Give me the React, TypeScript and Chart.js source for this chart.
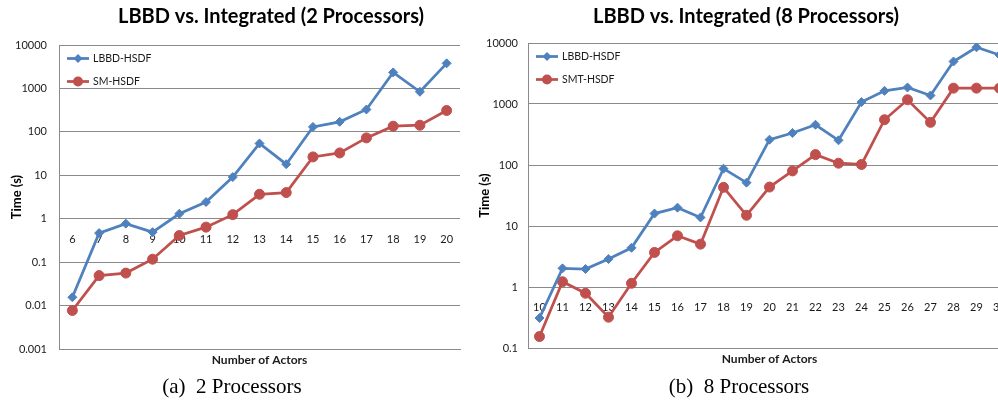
import React, { useEffect, useRef } from 'react';
import { Chart, registerables } from 'chart.js';

Chart.register(...registerables);

// ---------- data ----------
const actors2 = [6, 7, 8, 9, 10, 11, 12, 13, 14, 15, 16, 17, 18, 19, 20];
const lbbd2 = [0.0155, 0.466, 0.77, 0.49, 1.3, 2.42, 9.1, 54, 18, 130, 170, 327, 2340, 837, 3780];
const sm2 = [0.0077, 0.049, 0.056, 0.117, 0.41, 0.64, 1.24, 3.65, 4.0, 26.5, 32.7, 72.6, 135, 142, 310];
const yTicks2 = [0.001, 0.01, 0.1, 1, 10, 100, 1000, 10000];

const actors8 = [10, 11, 12, 13, 14, 15, 16, 17, 18, 19, 20, 21, 22, 23, 24, 25, 26, 27, 28, 29, 30];
const lbbd8 = [0.31, 2.02, 1.97, 2.87, 4.39, 16, 20, 13.8, 87, 51.4, 260, 335, 457, 254, 1075, 1643, 1866, 1380, 4970, 8510, 6370];
const smt8 = [0.154, 1.22, 0.79, 0.32, 1.15, 3.69, 6.9, 5.04, 43, 15, 43.5, 80, 148, 107, 102, 552, 1172, 500, 1820, 1820, 1820];
const yTicks8 = [0.1, 1, 10, 100, 1000, 10000];

const title2 = 'LBBD vs. Integrated (2 Processors)';
const title8 = 'LBBD vs. Integrated (8 Processors)';
const xTitle = 'Number of Actors';
const yTitle = 'Time (s)';

// ---------- styles ----------
const BLUE = '#4F81BD';
const RED = '#C0504D';
const GRID = '#8A8A8A';
const TEXT = '#1a1a1a';
const SANS = 'Lato, "Open Sans", "DejaVu Sans", sans-serif';

Chart.defaults.font.family = SANS;

const headingPlugin = {
  id: 'heading',
  afterDraw(chart: any, _args: any, opts: any) {
    const ctx = chart.ctx;
    ctx.save();
    ctx.font = `bold ${opts.size}px ${SANS}`;
    ctx.fillStyle = '#000';
    ctx.textAlign = 'center';
    ctx.textBaseline = 'middle';
    ctx.fillText(opts.text, opts.x, opts.y);
    ctx.restore();
  },
};

const innerLegend = {
  id: 'innerLegend',
  afterDatasetsDraw(chart: any, _args: any, opts: any) {
    const { ctx, chartArea } = chart;
    chart.data.datasets.forEach((ds: any, i: number) => {
      const y = chartArea.top + opts.top + i * opts.gap;
      const x0 = chartArea.left + opts.left;
      const x1 = x0 + opts.lineLength;
      const xm = (x0 + x1) / 2;
      ctx.save();
      ctx.strokeStyle = ds.borderColor;
      ctx.lineWidth = ds.borderWidth;
      ctx.beginPath();
      ctx.moveTo(x0, y);
      ctx.lineTo(x1, y);
      ctx.stroke();
      ctx.fillStyle = ds.pointBackgroundColor;
      const r = ds.pointRadius;
      ctx.beginPath();
      if (ds.pointStyle === 'rectRot') {
        ctx.moveTo(xm, y - r);
        ctx.lineTo(xm + r, y);
        ctx.lineTo(xm, y + r);
        ctx.lineTo(xm - r, y);
        ctx.closePath();
      } else {
        ctx.arc(xm, y, r, 0, Math.PI * 2);
      }
      ctx.fill();
      ctx.font = `${opts.fontSize}px ${SANS}`;
      ctx.fillStyle = TEXT;
      ctx.textAlign = 'left';
      ctx.textBaseline = 'middle';
      ctx.fillText(ds.label, x1 + 4, y);
      ctx.restore();
    });
  },
};

function buildConfig(p: any): any {
  return {
    type: 'line',
    data: {
      labels: p.categories.map(String),
      datasets: p.series.map((s: any) => ({
        label: s.label,
        data: s.values,
        borderColor: s.color,
        backgroundColor: s.color,
        pointBackgroundColor: s.color,
        pointBorderColor: s.color,
        pointBorderWidth: 1,
        pointStyle: s.pointStyle,
        pointRadius: s.radius,
        pointHoverRadius: s.radius,
        borderWidth: 2.75,
        tension: 0,
        xAxisID: 'x',
        yAxisID: 'y',
      })),
    },
    plugins: [headingPlugin, innerLegend],
    options: {
      responsive: false,
      animation: false,
      events: [],
      layout: { padding: { top: p.top, right: p.right, left: 0, bottom: 0 } },
      plugins: {
        legend: { display: false },
        title: { display: false },
        tooltip: { enabled: false },
        heading: { text: p.title, x: p.titleX, y: 17, size: 20 },
        innerLegend: { left: 8, top: 13.5, gap: 23, lineLength: 22, fontSize: 10.5 },
      },
      scales: {
        x: {
          type: 'category',
          position: 'bottom',
          offset: true,
          grid: { display: false, drawTicks: false },
          border: { display: true, color: GRID, width: 1 },
          ticks: { display: false },
          title: {
            display: true,
            text: xTitle,
            color: TEXT,
            font: { family: SANS, size: 12, weight: 'bold' },
            padding: { top: 0, bottom: p.xTitlePad },
          },
          afterFit: (s: any) => {
            s.height = p.xHeight;
          },
        },
        x2: {
          type: 'category',
          position: { y: 1 },
          offset: true,
          grid: { display: false, drawTicks: false },
          border: { display: false },
          ticks: {
            autoSkip: false,
            maxRotation: 0,
            padding: 14,
            color: TEXT,
            font: { family: SANS, size: 11 },
          },
        },
        y: {
          type: 'logarithmic',
          position: 'left',
          min: p.yMin,
          max: p.yMax,
          afterBuildTicks: (s: any) => {
            s.ticks = p.yTicks.map((v: number) => ({ value: v }));
          },
          afterFit: (s: any) => {
            s.width = p.yWidth;
          },
          grid: { color: GRID, lineWidth: 1, drawTicks: false },
          border: { display: true, color: GRID, width: 1 },
          ticks: {
            padding: p.yTickPad,
            color: TEXT,
            font: { family: SANS, size: 11 },
            callback: (v: any) => String(v),
          },
          title: {
            display: true,
            text: yTitle,
            color: '#000',
            font: { family: SANS, size: 13, weight: 'bold' },
            padding: { top: p.yTitlePad, bottom: 0 },
          },
        },
      },
    },
  };
}

const config2 = () =>
  buildConfig({
    categories: actors2,
    series: [
      { label: 'LBBD-HSDF', values: lbbd2, color: BLUE, pointStyle: 'rectRot', radius: 4.5 },
      { label: 'SM-HSDF', values: sm2, color: RED, pointStyle: 'circle', radius: 5 },
    ],
    yTicks: yTicks2,
    yMin: 0.001,
    yMax: 10000,
    title: title2,
    titleX: 271,
    top: 45,
    right: 20,
    yWidth: 59,
    yTickPad: 12,
    yTitlePad: 9.2,
    xHeight: 26,
    xTitlePad: 8,
  });

const config8 = () =>
  buildConfig({
    categories: actors8,
    series: [
      { label: 'LBBD-HSDF', values: lbbd8, color: BLUE, pointStyle: 'rectRot', radius: 4.5 },
      { label: 'SMT-HSDF', values: smt8, color: RED, pointStyle: 'circle', radius: 5 },
    ],
    yTicks: yTicks8,
    yMin: 0.1,
    yMax: 10000,
    title: title8,
    titleX: 276,
    top: 43,
    right: 19,
    yWidth: 58,
    yTickPad: 10,
    yTitlePad: 6.7,
    xHeight: 27,
    xTitlePad: 9,
  });

const captionStyle: React.CSSProperties = {
  position: 'absolute',
  top: 374,
  width: 300,
  textAlign: 'center',
  fontFamily: '"Liberation Serif", "Times New Roman", serif',
  fontSize: 21,
  lineHeight: '24px',
  color: '#000',
  whiteSpace: 'pre',
};

export default function App() {
  const refA = useRef<HTMLCanvasElement | null>(null);
  const refB = useRef<HTMLCanvasElement | null>(null);

  useEffect(() => {
    const a = new Chart(refA.current as HTMLCanvasElement, config2());
    const b = new Chart(refB.current as HTMLCanvasElement, config8());
    return () => {
      a.destroy();
      b.destroy();
    };
  }, []);

  return (
    <div
      style={{
        position: 'absolute',
        left: 0,
        top: 0,
        width: 998,
        height: 406,
        overflow: 'hidden',
        background: '#fff',
      }}
    >
      <canvas ref={refA} width={480} height={375} style={{ position: 'absolute', left: 0, top: 0 }} />
      <canvas ref={refB} width={560} height={375} style={{ position: 'absolute', left: 470, top: 0 }} />
      <div style={{ ...captionStyle, left: 232 - 150 }}>{'(a)  2 Processors'}</div>
      <div style={{ ...captionStyle, left: 739 - 150 }}>{'(b)  8 Processors'}</div>
    </div>
  );
}
